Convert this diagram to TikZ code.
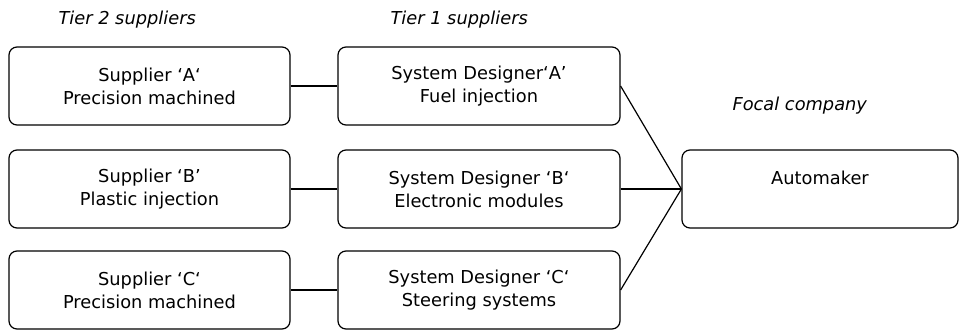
\documentclass[tikz,border=0pt]{standalone}
\usepackage{fontspec}
\setmainfont{DejaVu Sans}
\usetikzlibrary{positioning}

\begin{document}
\begin{tikzpicture}[x=1pt, y=-1pt,
    box/.style={draw, line width=1.2pt, rounded corners=8pt, minimum width=281pt,
        minimum height=78pt, align=center, font=\fontsize{17.8}{23}\selectfont},
    tier/.style={anchor=west, font=\fontsize{17.8}{23}\selectfont\itshape},
    link/.style={line width=1.2pt}]
    \useasboundingbox (0,0) rectangle (959,330);

    % Column labels
    \node[tier] (t2) at (55, 20) {Tier 2 suppliers};
    \node[tier] (t1) at (387, 20) {Tier 1 suppliers};
    \node[tier] (fc) at (729, 106) {Focal company};

    % Tier 2 suppliers
    \node[box] (sa) at (149.5, 86) {Supplier ‘A‘\\Precision machined};
    \node[box] (sb) at (149.5, 189) {Supplier ‘B’\\Plastic injection};
    \node[box] (sc) at (149.5, 290) {Supplier ‘C‘\\Precision machined};

    % Tier 1 suppliers
    \node[box, minimum width=282pt] (da) at (479, 86) {System Designer‘A’\\Fuel injection};
    \node[box, minimum width=282pt] (db) at (479, 189) {System Designer ‘B‘\\Electronic modules};
    \node[box, minimum width=282pt] (dc) at (479, 290) {System Designer ‘C‘\\Steering systems};

    % Focal company
    \node[box, minimum width=276pt] (am) at (820, 189) {Automaker\\\mbox{}};

    % Links
    \draw[link] (sa) -- (da);
    \draw[link] (sb) -- (db);
    \draw[link] (sc) -- (dc);
    \draw[link] (da.east) -- (am.west);
    \draw[link] (db.east) -- (am.west);
    \draw[link] (dc.east) -- (am.west);
\end{tikzpicture}
\end{document}
